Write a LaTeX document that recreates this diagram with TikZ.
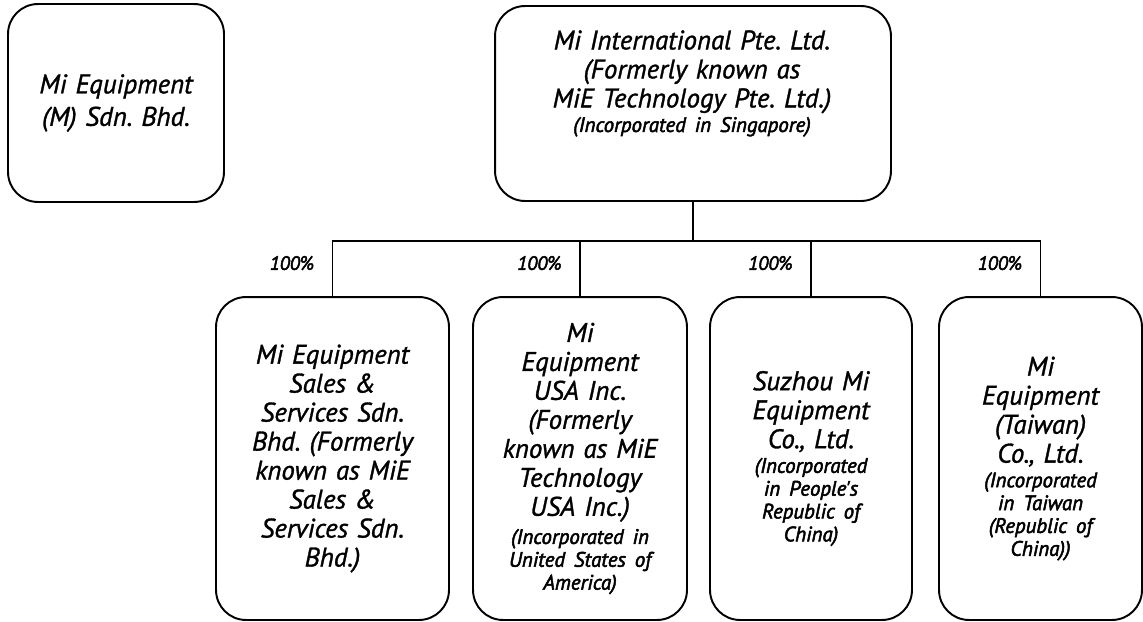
\documentclass[tikz,border=0pt]{standalone}
\usepackage{fontspec}
\setmainfont{PT Sans}[ItalicFeatures={FakeBold=1.2}]
\newfontfamily\incfam{PT Sans}[ItalicFeatures={FakeBold=2.4}]
\usetikzlibrary{positioning}
\newcommand{\incfont}{\incfam\itshape\fontsize{11.9}{13}\selectfont}

\begin{document}
\frenchspacing
\begin{tikzpicture}[x=0.02cm,y=-0.02cm,
    company/.style={draw, line width=1.1pt, rounded corners=0.6cm, align=center,
        font=\fontsize{15.3}{16.5}\selectfont\itshape, inner sep=0pt},
    link/.style={line width=0.8pt},
    pct/.style={font=\incfam\itshape\fontsize{11}{12}\selectfont, anchor=east, inner sep=0pt}]
    \useasboundingbox (0,0) rectangle (1143,622);
    % Group structure
    \node[company, minimum width=4.32cm, minimum height=3.96cm, text width=4.2cm,
        font=\fontsize{15.3}{18.5}\selectfont\itshape] (mem) at (116,103)
        {Mi Equipment\\ (M) Sdn. Bhd.};
    \node[company, minimum width=7.92cm, minimum height=3.9cm] (mint) at (693,103.5) {};
    \node[align=center, text width=7.6cm, anchor=north, inner sep=0pt,
        font=\fontsize{15.3}{16.5}\selectfont\itshape] (minttext) at (692,30)
        {Mi International Pte. Ltd.\\ (Formerly known as\\ MiE Technology Pte. Ltd.)\par
         \vspace{1pt}{\incfont (Incorporated in Singapore)\par}};
    \node[company, minimum width=4.66cm, minimum height=6.46cm, text width=4.5cm] (mess) at (332.5,458.5)
        {Mi Equipment\\ Sales \&\\ Services Sdn.\\ Bhd. (Formerly\\ known as MiE\\ Sales \&\\ Services Sdn.\\ Bhd.)};
    \node[company, minimum width=4.28cm, minimum height=6.46cm, text width=4.2cm] (musa) at (580,458.5)
        {Mi\\ Equipment\\ USA Inc.\\ (Formerly\\ known as MiE\\ Technology\\ USA Inc.)\par
         \vspace{3pt}{\incfont (Incorporated in\\ United States of\\ America)\par}};
    \node[company, minimum width=4.04cm, minimum height=6.46cm, text width=3.95cm] (msz) at (811,458.5)
        {Suzhou Mi\\ Equipment\\ Co., Ltd.\par
         \vspace{1pt}{\incfont (Incorporated\\ in People's\\ Republic of\\ China)\par}};
    \node[company, minimum width=4.06cm, minimum height=6.46cm, text width=3.95cm] (mtw) at (1040.5,458.5)
        {Mi\\ Equipment\\ (Taiwan)\\ Co., Ltd.\par
         \vspace{1pt}{\incfont (Incorporated\\ in Taiwan\\ (Republic of\\ China))\par}};
    % Ownership lines
    \draw[link] (mint.south) -- ++(0,39) coordinate (hub);
    \foreach \c in {mess,musa,msz,mtw}
        \draw[link] (hub) -| (\c.north);
    \node[pct] (pess) at ([xshift=-0.36cm,yshift=0.66cm]mess.north) {100\%};
    \node[pct] (pusa) at ([xshift=-0.36cm,yshift=0.66cm]musa.north) {100\%};
    \node[pct] (psz) at ([xshift=-0.36cm,yshift=0.66cm]msz.north) {100\%};
    \node[pct] (ptw) at ([xshift=-0.36cm,yshift=0.66cm]mtw.north) {100\%};
\end{tikzpicture}
\end{document}
